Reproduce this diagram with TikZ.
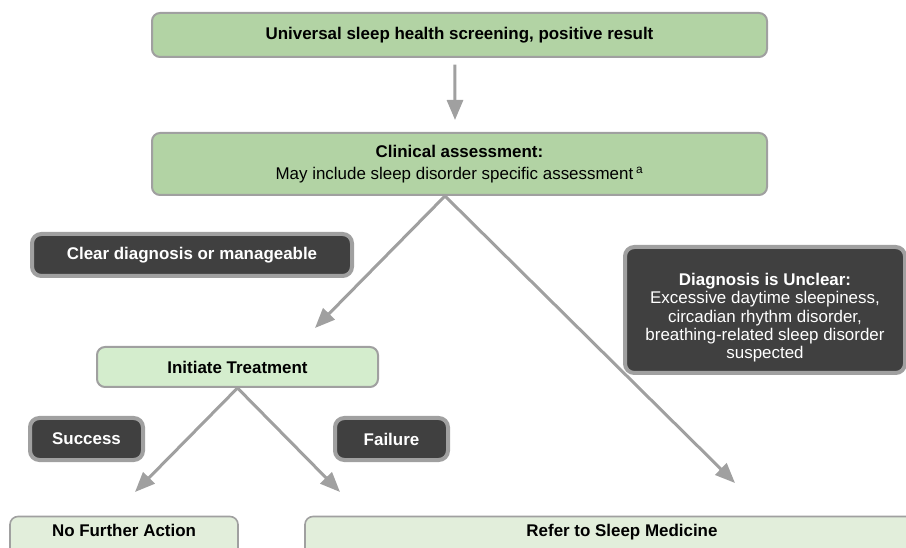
\documentclass[tikz,border=0pt]{standalone}
\usepackage{fontspec}
\setmainfont{Liberation Sans}
\usetikzlibrary{arrows.meta}
\definecolor{green-box}{RGB}{178,211,164}
\definecolor{green-light}{RGB}{212,237,205}
\definecolor{green-pale}{RGB}{226,238,219}
\definecolor{dark-box}{RGB}{64,64,64}
\definecolor{edge-gray}{RGB}{160,160,160}

\begin{document}
\begin{tikzpicture}[x=0.75pt, y=-0.75pt,
		stepbox/.style={draw=edge-gray, line width=1.5pt, rounded corners=6pt, align=center, inner sep=0pt, font=\fontsize{12.7}{15}\selectfont\bfseries},
		labelbox/.style={draw=edge-gray, fill=dark-box, line width=3pt, rounded corners=7pt, text=white, align=center, inner sep=0pt, font=\fontsize{12.7}{13.75}\selectfont\bfseries},
		flow/.style={draw=edge-gray, line width=2.25pt, -{Triangle[length=15pt, width=12pt]}}]
		
		\clip (0,0) rectangle (906,548);
		
		% Draw the screening step
		\node (screening) [stepbox, fill=green-box, minimum width=461.25pt, minimum height=33pt] at (459.5,35) {Universal sleep health screening, positive result};
		
		% Draw the clinical assessment
		\node (assess) [stepbox, fill=green-box, minimum width=461.25pt, minimum height=46.5pt] at (459.5,164) {Clinical assessment:\\[1pt]\mdseries May include sleep disorder specific assessment\,\textsuperscript{a}};
		
		% Draw the condition labels
		\node (clear) [labelbox, minimum width=240pt, minimum height=31.5pt] at (192,255) {Clear diagnosis or manageable};
		\node (unclear) [labelbox, minimum width=210pt, minimum height=94.5pt] at (765,310) {\rule{0pt}{21pt}Diagnosis is Unclear:\\\mdseries Excessive daytime sleepiness,\\\mdseries circadian rhythm disorder,\\\mdseries breathing-related sleep disorder\\\mdseries suspected};
		
		% Draw the treatment step
		\node (treat) [stepbox, fill=green-light, minimum width=210.75pt, minimum height=30pt] at (237.5,367) {Initiate Treatment};
		
		% Draw the outcome labels
		\node (success) [labelbox, minimum width=84.75pt, minimum height=31.5pt] at (86.5,439) {Success};
		\node (failure) [labelbox, minimum width=84.75pt, minimum height=31.5pt] at (391.5,439) {Failure};
		
		% Draw the final steps
		\node (noaction) [stepbox, fill=green-pale, line width=1.2pt, minimum width=171pt, minimum height=30pt, text depth=9pt] at (124,536.5) {No Further Action};
		\node (refer) [stepbox, fill=green-pale, line width=1.2pt, minimum width=475.5pt, minimum height=30pt, text depth=9pt] at (622,536.5) {Refer to Sleep Medicine};
		
		% Arrow ends
		\coordinate (tip1) at (455,120);
		\coordinate (tip2) at (315,328);
		\coordinate (tip3) at (735,483);
		\coordinate (tip4) at (135,492);
		\coordinate (tip5) at (340,492);
		
		% Connect the steps with arrows
		\draw[flow] ([xshift=-3.4pt, yshift=-5pt]screening.south) -- (tip1);
		\draw[flow] ([xshift=-10.9pt]assess.south) -- (tip2);
		\draw[flow] ([xshift=-10.9pt]assess.south) -- (tip3);
		\draw[flow] (treat.south) -- (tip4);
		\draw[flow] (treat.south) -- (tip5);
		\end{tikzpicture}
\end{document}
